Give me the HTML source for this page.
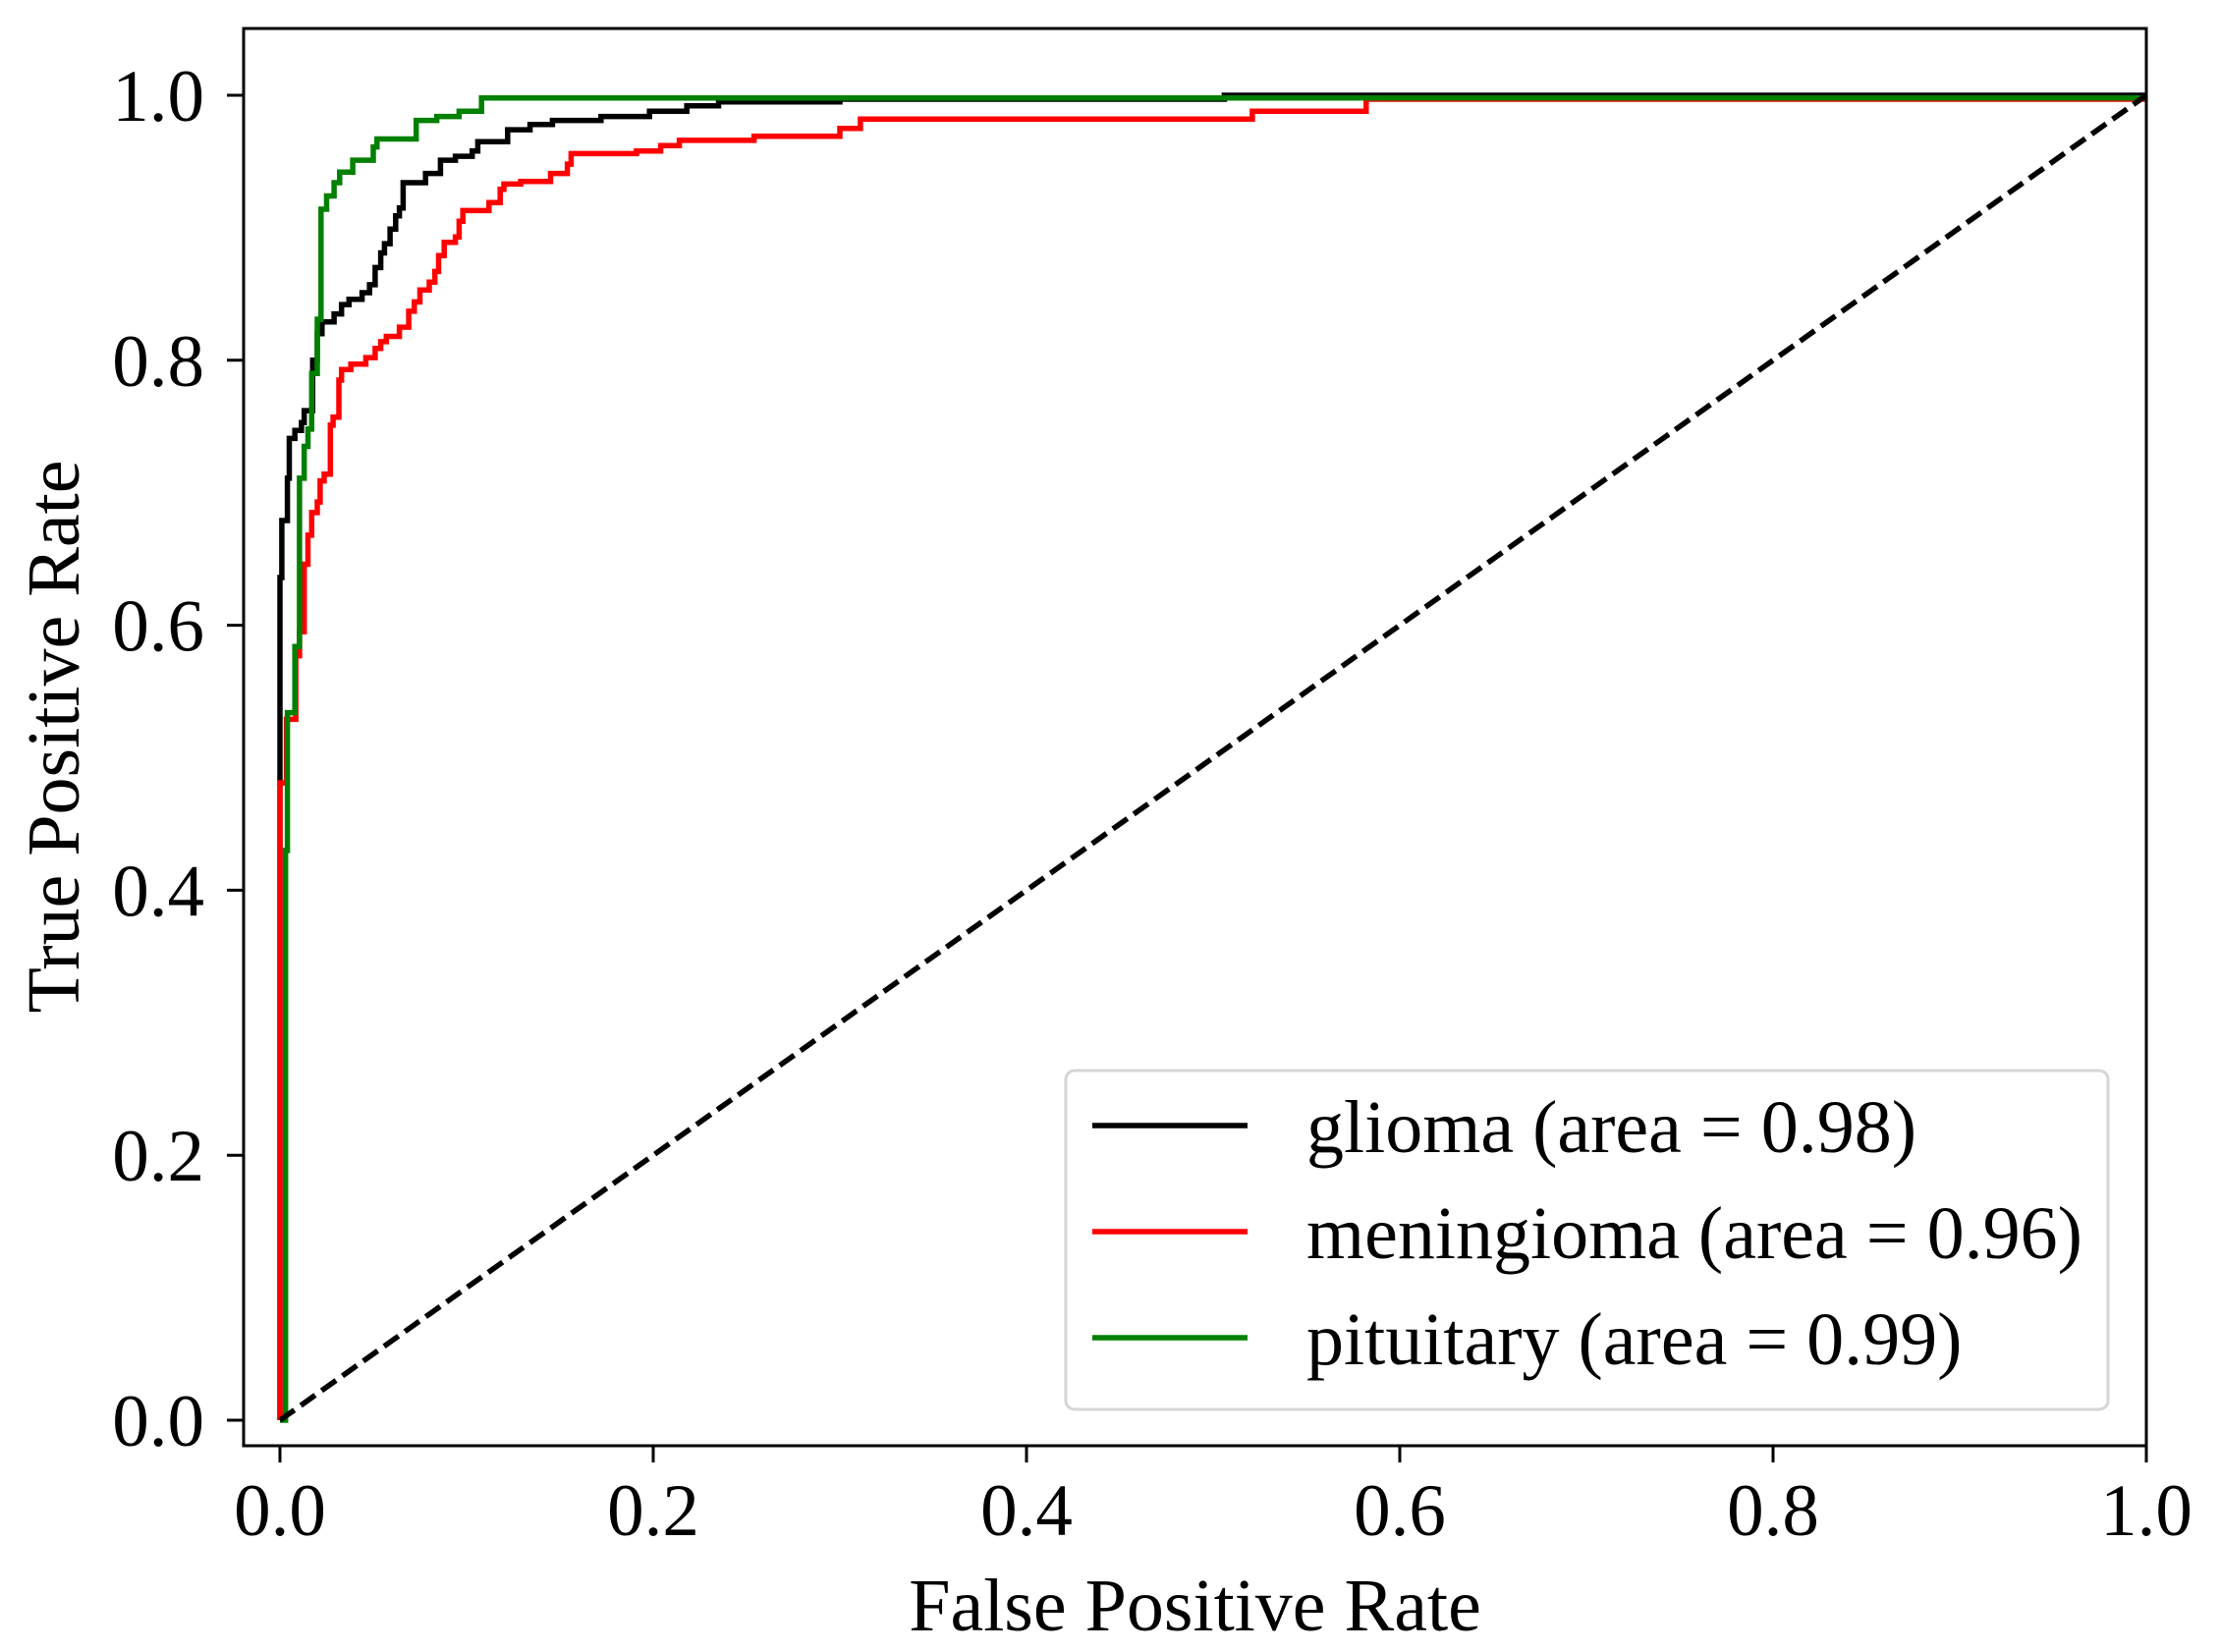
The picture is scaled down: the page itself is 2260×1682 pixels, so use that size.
<!DOCTYPE html>
<html><head><meta charset="utf-8">
<style>
html,body{margin:0;padding:0;background:#fff;}
svg{display:block;}
text{font-family:"Liberation Serif","DejaVu Serif",serif;fill:#000;}
</style></head>
<body>
<svg id="chart" width="2260" height="1682" viewBox="0 0 2260 1682" xmlns="http://www.w3.org/2000/svg">
  <rect x="0" y="0" width="2260" height="1682" fill="#fff"/>
  <g id="plot"></g>
  <g id="axes"></g>
  <g id="legend"></g>
</svg>
<script>
const xTicks = [0.0, 0.2, 0.4, 0.6, 0.8, 1.0];
const yTicks = [0.0, 0.2, 0.4, 0.6, 0.8, 1.0];
const tickLabels = ["0.0", "0.2", "0.4", "0.6", "0.8", "1.0"];
const seriesNames = ["glioma (area = 0.98)", "meningioma (area = 0.96)", "pituitary (area = 0.99)"];
const seriesColors = ["#000000", "#ff0000", "#008000"];

const gliomaFpr = [0,0,0,0.001,0.001,0.004,0.004,0.005,0.005,0.008,0.008,0.0115,0.0115,0.013,0.013,0.0175,0.0175,0.020,0.020,0.0225,0.0225,0.029,0.029,0.033,0.033,0.037,0.037,0.044,0.044,0.048,0.048,0.051,0.051,0.054,0.054,0.056,0.056,0.059,0.059,0.062,0.062,0.064,0.064,0.066,0.066,0.078,0.078,0.086,0.086,0.094,0.094,0.103,0.103,0.106,0.106,0.122,0.122,0.134,0.134,0.146,0.146,0.172,0.172,0.198,0.198,0.218,0.218,0.235,0.235,0.30,0.30,0.506,0.506,1.0];
const gliomaTpr = [0,0.48,0.636,0.636,0.679,0.679,0.711,0.711,0.741,0.741,0.747,0.747,0.753,0.753,0.762,0.762,0.800,0.800,0.820,0.820,0.829,0.829,0.835,0.835,0.842,0.842,0.846,0.846,0.851,0.851,0.857,0.857,0.870,0.870,0.881,0.881,0.888,0.888,0.899,0.899,0.909,0.909,0.915,0.915,0.934,0.934,0.941,0.941,0.951,0.951,0.954,0.954,0.958,0.958,0.965,0.965,0.974,0.974,0.978,0.978,0.981,0.981,0.984,0.984,0.988,0.988,0.992,0.992,0.995,0.995,0.997,0.997,1.0,1.0];

const meningFpr = [0,0,0,0.0035,0.0035,0.0085,0.0085,0.0105,0.0105,0.013,0.013,0.015,0.015,0.017,0.017,0.020,0.020,0.0215,0.0215,0.0237,0.0237,0.027,0.027,0.0285,0.0285,0.0316,0.0316,0.033,0.033,0.038,0.038,0.046,0.046,0.051,0.051,0.054,0.054,0.057,0.057,0.064,0.064,0.069,0.069,0.072,0.072,0.075,0.075,0.080,0.080,0.083,0.083,0.085,0.085,0.088,0.088,0.094,0.094,0.096,0.096,0.098,0.098,0.112,0.112,0.118,0.118,0.120,0.120,0.129,0.129,0.145,0.145,0.154,0.154,0.156,0.156,0.191,0.191,0.204,0.204,0.214,0.214,0.254,0.254,0.30,0.30,0.311,0.311,0.521,0.521,0.582,0.582,1.0,1.0];
const meningTpr = [0,0.44,0.481,0.481,0.529,0.529,0.577,0.577,0.595,0.595,0.646,0.646,0.668,0.668,0.685,0.685,0.693,0.693,0.709,0.709,0.714,0.714,0.751,0.751,0.757,0.757,0.785,0.785,0.793,0.793,0.797,0.797,0.802,0.802,0.809,0.809,0.814,0.814,0.818,0.818,0.825,0.825,0.837,0.837,0.844,0.844,0.853,0.853,0.859,0.859,0.867,0.867,0.879,0.879,0.889,0.889,0.893,0.893,0.905,0.905,0.913,0.913,0.919,0.919,0.929,0.929,0.933,0.933,0.935,0.935,0.941,0.941,0.948,0.948,0.956,0.956,0.958,0.958,0.962,0.962,0.966,0.966,0.969,0.969,0.975,0.975,0.982,0.982,0.988,0.988,0.997,0.997,1.0];

const pituFpr = [0,0.003,0.003,0.004,0.004,0.008,0.008,0.0105,0.0105,0.013,0.013,0.015,0.015,0.017,0.017,0.020,0.020,0.022,0.022,0.025,0.025,0.029,0.029,0.032,0.032,0.039,0.039,0.050,0.050,0.052,0.052,0.073,0.073,0.084,0.084,0.096,0.096,0.108,0.108,1.0];
const pituTpr = [0,0,0.43,0.43,0.534,0.534,0.584,0.584,0.711,0.711,0.735,0.735,0.748,0.748,0.790,0.790,0.831,0.831,0.914,0.914,0.924,0.924,0.934,0.934,0.942,0.942,0.951,0.951,0.961,0.961,0.967,0.967,0.981,0.981,0.984,0.984,0.988,0.988,0.998,0.998,1.0];

const diagX = [0, 1];
const diagY = [0, 1];

const NS = "http://www.w3.org/2000/svg";
const X0 = 285, X1 = 2185;
const Y0 = 1446, Y1 = 97;
const AX = {left:248, right:2185, top:29, bottom:1472};
function sx(v){ return X0 + v*(X1-X0); }
function sy(v){ return Y0 - v*(Y0-Y1); }
function mk(tag, attrs, parent){
  const e = document.createElementNS(NS, tag);
  for (const k in attrs) e.setAttribute(k, attrs[k]);
  parent.appendChild(e);
  return e;
}
const plot = document.getElementById('plot');
const axes = document.getElementById('axes');
const legend = document.getElementById('legend');

function pathFrom(xs, ys){
  let d = '';
  for (let i=0;i<xs.length;i++){ d += (i?'L':'M') + sx(xs[i]).toFixed(1) + ' ' + sy(ys[i]).toFixed(1); }
  return d;
}
const clip = mk('clipPath', {id:'clipAx'}, plot);
mk('rect', {x:AX.left, y:AX.top, width:AX.right-AX.left, height:AX.bottom-AX.top}, clip);

const allX = [gliomaFpr, meningFpr, pituFpr];
const allY = [gliomaTpr, meningTpr, pituTpr];
const seriesKeys = ['glioma-curve','meningioma-curve','pituitary-curve'];
for (let s=0;s<3;s++){
  const p = mk('path', {d:pathFrom(allX[s], allY[s]), fill:'none', stroke:seriesColors[s], 'stroke-width':5.5, 'stroke-linejoin':'miter', 'clip-path':'url(#clipAx)'}, plot);
  
  
}
const diag = mk('path', {d:pathFrom(diagX, diagY), fill:'none', stroke:'#000', 'stroke-width':5.5, 'stroke-dasharray':'18 8'}, plot);



const frame = mk('rect', {x:AX.left, y:AX.top, width:AX.right-AX.left, height:AX.bottom-AX.top, fill:'none', stroke:'#000', 'stroke-width':3}, axes);



for (let i=0;i<xTicks.length;i++){
  const x = sx(xTicks[i]);
  const t = mk('line', {x1:x, x2:x, y1:AX.bottom, y2:AX.bottom+17, stroke:'#000', 'stroke-width':3}, axes);
  
  
  const l = mk('text', {x:x, y:1563, 'font-size':75, 'text-anchor':'middle'}, axes);
  l.textContent = tickLabels[i];
  
  
}
for (let i=0;i<yTicks.length;i++){
  const y = sy(yTicks[i]);
  const t = mk('line', {x1:AX.left-17, x2:AX.left, y1:y, y2:y, stroke:'#000', 'stroke-width':3}, axes);
  
  
  const l = mk('text', {x:208, y:y+26, 'font-size':75, 'text-anchor':'end'}, axes);
  l.textContent = tickLabels[i];
  
  
}
const xl = mk('text', {x:(AX.left+AX.right)/2, y:1660, 'font-size':76, 'text-anchor':'middle'}, axes);
xl.textContent = 'False Positive Rate';


const yl = mk('text', {x:0, y:0, 'font-size':76, 'text-anchor':'middle', transform:'translate(80,750) rotate(-90)'}, axes);
yl.textContent = 'True Positive Rate';



const lb = mk('rect', {x:1085, y:1090, width:1061, height:345, rx:9, ry:9, fill:'#fff', 'fill-opacity':0.8, stroke:'#d6d6d6', 'stroke-width':3}, legend);


const legKeys = ['legend-entry-glioma','legend-entry-meningioma','legend-entry-pituitary'];
for (let s=0;s<3;s++){
  const y = 1146 + s*108;
  const g = mk('g', {}, legend);
  
  
  const ln = mk('line', {x1:1112, x2:1270, y1:y, y2:y, stroke:seriesColors[s], 'stroke-width':5.5}, g);
  
  
  const tx = mk('text', {x:1330, y:y+27, 'font-size':76}, g);
  tx.textContent = seriesNames[s];
  
  
}
</script>
</body></html>
